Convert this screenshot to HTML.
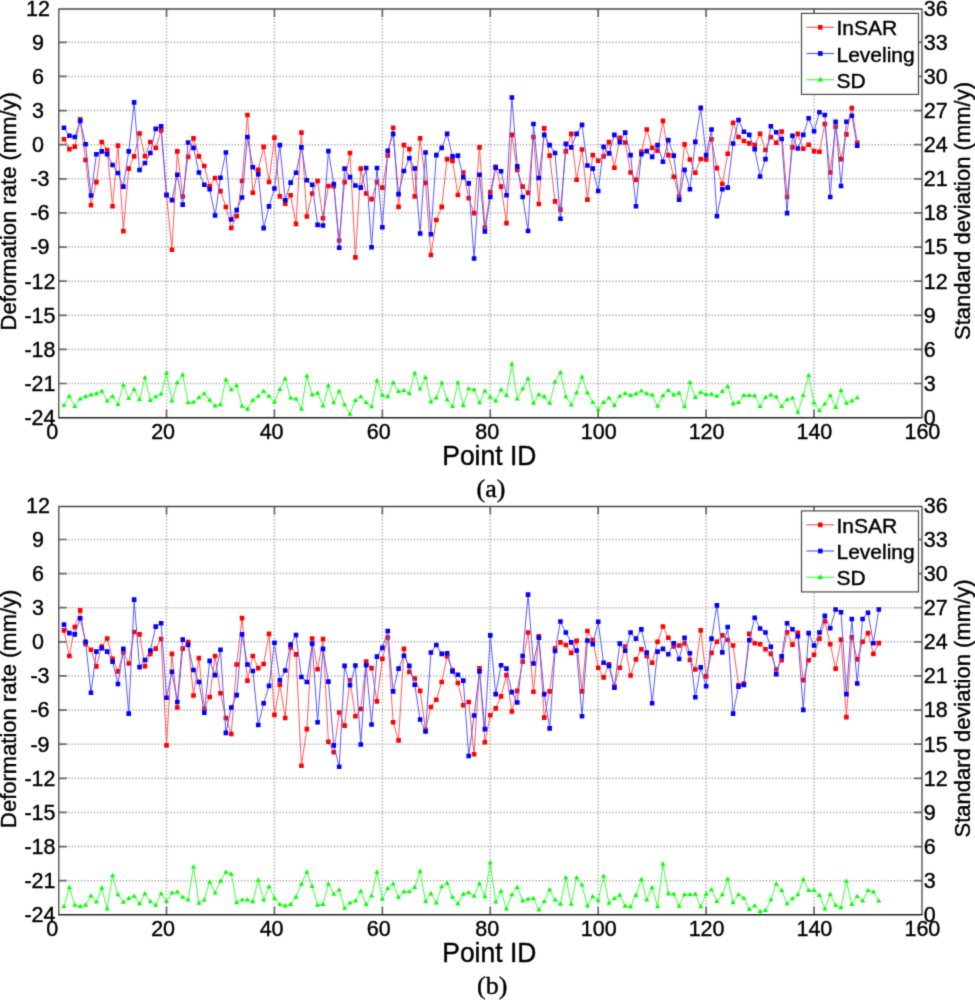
<!DOCTYPE html>
<html><head><meta charset="utf-8"><style>
html,body{margin:0;padding:0;background:#fff;}
svg{display:block;}
text{stroke:#000;stroke-width:0.4px;}
</style></head><body>
<svg width="975" height="1000" viewBox="0 0 975 1000">
<defs><filter id="bl" x="0" y="0" width="975" height="1000" filterUnits="userSpaceOnUse" color-interpolation-filters="sRGB"><feConvolveMatrix order="3" kernelMatrix="0.01917 0.10012 0.01917 0.10012 0.52283 0.10012 0.01917 0.10012 0.01917" divisor="1" edgeMode="duplicate"/></filter></defs>
<g filter="url(#bl)">
<rect width="975" height="1000" fill="#fff"/>
<path d="M166.52 9V417.7M274.44 9V417.7M382.36 9V417.7M490.28 9V417.7M598.2 9V417.7M706.12 9V417.7M814.04 9V417.7M58.8 42.32H922M58.8 76.44H922M58.8 110.56H922M58.8 144.68H922M58.8 178.8H922M58.8 212.92H922M58.8 247.04H922M58.8 281.16H922M58.8 315.28H922M58.8 349.4H922M58.8 383.52H922" stroke="#a4a4a4" stroke-width="1.5" stroke-dasharray="1.25 1.95" fill="none"/>
<path d="M58.8 42.32h8M922 42.32h-8M58.8 76.44h8M922 76.44h-8M58.8 110.56h8M922 110.56h-8M58.8 144.68h8M922 144.68h-8M58.8 178.8h8M922 178.8h-8M58.8 212.92h8M922 212.92h-8M58.8 247.04h8M922 247.04h-8M58.8 281.16h8M922 281.16h-8M58.8 315.28h8M922 315.28h-8M58.8 349.4h8M922 349.4h-8M58.8 383.52h8M922 383.52h-8M166.52 417.7v-8M166.52 9v8M274.44 417.7v-8M274.44 9v8M382.36 417.7v-8M382.36 9v8M490.28 417.7v-8M490.28 9v8M598.2 417.7v-8M598.2 9v8M706.12 417.7v-8M706.12 9v8M814.04 417.7v-8M814.04 9v8" stroke="#6a6a6a" stroke-width="1.7" fill="none"/>
<path d="M58.8 417.7V9H922.0V417.7" stroke="#484848" stroke-width="1.3" fill="none" stroke-linejoin="miter"/>
<path d="M58.3 417.7H922.5" stroke="#222" stroke-width="1.6" fill="none"/>
<polyline points="64,405.19 69.39,396.18 74.79,406.47 80.18,398.87 85.58,396.53 90.98,394.78 96.37,393.61 101.77,391.16 107.16,400.86 112.56,396.42 117.96,404.37 123.35,384.84 128.75,398.52 134.14,389.52 139.54,399.69 144.94,377.71 150.33,400.51 155.73,396.77 161.12,393.84 166.52,373.03 171.92,400.86 177.31,382.74 182.71,374.79 188.1,402.61 193.5,402.26 198.9,397.35 204.29,393.61 209.69,400.27 215.08,405.89 220.48,404.6 225.88,379.81 231.27,389.75 236.67,385.66 242.06,406.12 247.46,409.04 252.86,400.27 258.25,396.18 263.65,391.16 269.04,396.18 274.44,402.03 279.84,389.4 285.23,378.64 290.63,397.94 296.02,398.87 301.42,409.04 306.82,375.96 312.21,394.78 317.61,393.03 323,405.89 328.4,385.66 333.8,402.61 339.19,391.16 344.59,404.6 349.98,414.07 355.38,400.51 360.78,396.77 366.17,402.38 371.57,406.71 376.96,380.63 382.36,395.25 387.76,396.77 393.15,382.74 398.55,391.51 403.94,390.34 409.34,393.49 414.74,373.15 420.13,388.93 425.53,377.48 430.92,401.79 436.32,397.7 441.72,382.97 447.11,399.69 452.51,406.47 457.9,382.74 463.3,405.3 468.7,388.58 474.09,389.75 479.49,402.61 484.88,390.92 490.28,397.12 495.68,400.86 501.07,389.75 506.47,395.36 511.86,364.03 517.26,398.87 522.66,388.58 528.05,378.64 533.45,403.2 538.84,394.66 544.24,396.53 549.64,403.2 555.03,381.92 560.43,372.45 565.82,396.77 571.22,404.95 576.62,392.68 582.01,376.89 587.41,392.91 592.8,402.26 598.2,409.63 603.6,402.38 608.99,397.94 614.39,405.3 619.78,396.18 625.18,393.49 630.58,395.36 635.97,393.61 641.37,390.92 646.76,393.61 652.16,394.78 657.56,406.12 662.95,395.6 668.35,390.34 673.74,394.78 679.14,393.03 684.54,406.71 689.93,382.5 695.33,397.35 700.72,392.32 706.12,394.43 711.52,394.2 716.91,396.18 722.31,391.51 727.7,386.48 733.1,403.78 738.5,402.38 743.89,395.36 749.29,395.36 754.68,395.6 760.08,406.47 765.48,397.35 770.87,394.78 776.27,397 781.66,406.47 787.06,399.69 792.46,397.94 797.85,412.2 803.25,395.36 808.64,375.49 814.04,402.85 819.44,410.56 824.83,404.02 830.23,395.36 835.62,407.29 841.02,390.34 846.42,403.2 851.81,400.86 857.21,397.7" stroke="#40ff40" stroke-width="1.0" fill="none" stroke-linejoin="round"/>
<path d="M64 402.49l2.55 4.3h-5.1zM69.39 393.48l2.55 4.3h-5.1zM74.79 403.77l2.55 4.3h-5.1zM80.18 396.17l2.55 4.3h-5.1zM85.58 393.83l2.55 4.3h-5.1zM90.98 392.08l2.55 4.3h-5.1zM96.37 390.91l2.55 4.3h-5.1zM101.77 388.46l2.55 4.3h-5.1zM107.16 398.16l2.55 4.3h-5.1zM112.56 393.72l2.55 4.3h-5.1zM117.96 401.67l2.55 4.3h-5.1zM123.35 382.14l2.55 4.3h-5.1zM128.75 395.82l2.55 4.3h-5.1zM134.14 386.82l2.55 4.3h-5.1zM139.54 396.99l2.55 4.3h-5.1zM144.94 375.01l2.55 4.3h-5.1zM150.33 397.81l2.55 4.3h-5.1zM155.73 394.07l2.55 4.3h-5.1zM161.12 391.14l2.55 4.3h-5.1zM166.52 370.33l2.55 4.3h-5.1zM171.92 398.16l2.55 4.3h-5.1zM177.31 380.04l2.55 4.3h-5.1zM182.71 372.09l2.55 4.3h-5.1zM188.1 399.91l2.55 4.3h-5.1zM193.5 399.56l2.55 4.3h-5.1zM198.9 394.65l2.55 4.3h-5.1zM204.29 390.91l2.55 4.3h-5.1zM209.69 397.57l2.55 4.3h-5.1zM215.08 403.19l2.55 4.3h-5.1zM220.48 401.9l2.55 4.3h-5.1zM225.88 377.11l2.55 4.3h-5.1zM231.27 387.05l2.55 4.3h-5.1zM236.67 382.96l2.55 4.3h-5.1zM242.06 403.42l2.55 4.3h-5.1zM247.46 406.34l2.55 4.3h-5.1zM252.86 397.57l2.55 4.3h-5.1zM258.25 393.48l2.55 4.3h-5.1zM263.65 388.46l2.55 4.3h-5.1zM269.04 393.48l2.55 4.3h-5.1zM274.44 399.33l2.55 4.3h-5.1zM279.84 386.7l2.55 4.3h-5.1zM285.23 375.94l2.55 4.3h-5.1zM290.63 395.24l2.55 4.3h-5.1zM296.02 396.17l2.55 4.3h-5.1zM301.42 406.34l2.55 4.3h-5.1zM306.82 373.26l2.55 4.3h-5.1zM312.21 392.08l2.55 4.3h-5.1zM317.61 390.33l2.55 4.3h-5.1zM323 403.19l2.55 4.3h-5.1zM328.4 382.96l2.55 4.3h-5.1zM333.8 399.91l2.55 4.3h-5.1zM339.19 388.46l2.55 4.3h-5.1zM344.59 401.9l2.55 4.3h-5.1zM349.98 411.37l2.55 4.3h-5.1zM355.38 397.81l2.55 4.3h-5.1zM360.78 394.07l2.55 4.3h-5.1zM366.17 399.68l2.55 4.3h-5.1zM371.57 404.01l2.55 4.3h-5.1zM376.96 377.93l2.55 4.3h-5.1zM382.36 392.55l2.55 4.3h-5.1zM387.76 394.07l2.55 4.3h-5.1zM393.15 380.04l2.55 4.3h-5.1zM398.55 388.81l2.55 4.3h-5.1zM403.94 387.64l2.55 4.3h-5.1zM409.34 390.79l2.55 4.3h-5.1zM414.74 370.45l2.55 4.3h-5.1zM420.13 386.23l2.55 4.3h-5.1zM425.53 374.78l2.55 4.3h-5.1zM430.92 399.09l2.55 4.3h-5.1zM436.32 395l2.55 4.3h-5.1zM441.72 380.27l2.55 4.3h-5.1zM447.11 396.99l2.55 4.3h-5.1zM452.51 403.77l2.55 4.3h-5.1zM457.9 380.04l2.55 4.3h-5.1zM463.3 402.6l2.55 4.3h-5.1zM468.7 385.88l2.55 4.3h-5.1zM474.09 387.05l2.55 4.3h-5.1zM479.49 399.91l2.55 4.3h-5.1zM484.88 388.22l2.55 4.3h-5.1zM490.28 394.42l2.55 4.3h-5.1zM495.68 398.16l2.55 4.3h-5.1zM501.07 387.05l2.55 4.3h-5.1zM506.47 392.66l2.55 4.3h-5.1zM511.86 361.33l2.55 4.3h-5.1zM517.26 396.17l2.55 4.3h-5.1zM522.66 385.88l2.55 4.3h-5.1zM528.05 375.94l2.55 4.3h-5.1zM533.45 400.5l2.55 4.3h-5.1zM538.84 391.96l2.55 4.3h-5.1zM544.24 393.83l2.55 4.3h-5.1zM549.64 400.5l2.55 4.3h-5.1zM555.03 379.22l2.55 4.3h-5.1zM560.43 369.75l2.55 4.3h-5.1zM565.82 394.07l2.55 4.3h-5.1zM571.22 402.25l2.55 4.3h-5.1zM576.62 389.98l2.55 4.3h-5.1zM582.01 374.19l2.55 4.3h-5.1zM587.41 390.21l2.55 4.3h-5.1zM592.8 399.56l2.55 4.3h-5.1zM598.2 406.93l2.55 4.3h-5.1zM603.6 399.68l2.55 4.3h-5.1zM608.99 395.24l2.55 4.3h-5.1zM614.39 402.6l2.55 4.3h-5.1zM619.78 393.48l2.55 4.3h-5.1zM625.18 390.79l2.55 4.3h-5.1zM630.58 392.66l2.55 4.3h-5.1zM635.97 390.91l2.55 4.3h-5.1zM641.37 388.22l2.55 4.3h-5.1zM646.76 390.91l2.55 4.3h-5.1zM652.16 392.08l2.55 4.3h-5.1zM657.56 403.42l2.55 4.3h-5.1zM662.95 392.9l2.55 4.3h-5.1zM668.35 387.64l2.55 4.3h-5.1zM673.74 392.08l2.55 4.3h-5.1zM679.14 390.33l2.55 4.3h-5.1zM684.54 404.01l2.55 4.3h-5.1zM689.93 379.8l2.55 4.3h-5.1zM695.33 394.65l2.55 4.3h-5.1zM700.72 389.62l2.55 4.3h-5.1zM706.12 391.73l2.55 4.3h-5.1zM711.52 391.5l2.55 4.3h-5.1zM716.91 393.48l2.55 4.3h-5.1zM722.31 388.81l2.55 4.3h-5.1zM727.7 383.78l2.55 4.3h-5.1zM733.1 401.08l2.55 4.3h-5.1zM738.5 399.68l2.55 4.3h-5.1zM743.89 392.66l2.55 4.3h-5.1zM749.29 392.66l2.55 4.3h-5.1zM754.68 392.9l2.55 4.3h-5.1zM760.08 403.77l2.55 4.3h-5.1zM765.48 394.65l2.55 4.3h-5.1zM770.87 392.08l2.55 4.3h-5.1zM776.27 394.3l2.55 4.3h-5.1zM781.66 403.77l2.55 4.3h-5.1zM787.06 396.99l2.55 4.3h-5.1zM792.46 395.24l2.55 4.3h-5.1zM797.85 409.5l2.55 4.3h-5.1zM803.25 392.66l2.55 4.3h-5.1zM808.64 372.79l2.55 4.3h-5.1zM814.04 400.15l2.55 4.3h-5.1zM819.44 407.86l2.55 4.3h-5.1zM824.83 401.32l2.55 4.3h-5.1zM830.23 392.66l2.55 4.3h-5.1zM835.62 404.59l2.55 4.3h-5.1zM841.02 387.64l2.55 4.3h-5.1zM846.42 400.5l2.55 4.3h-5.1zM851.81 398.16l2.55 4.3h-5.1zM857.21 395l2.55 4.3h-5.1z" fill="#00ff00"/>
<polyline points="64,139.23 69.39,149.09 74.79,146.67 80.18,119.34 85.58,159.99 90.98,205.32 96.37,182.14 101.77,142 107.16,150.13 112.56,206.19 117.96,145.63 123.35,231.1 128.75,168.64 134.14,156.36 139.54,133.52 144.94,156.19 150.33,142 155.73,148.06 161.12,130.41 166.52,194.77 171.92,249.79 177.31,151.34 182.71,196.5 188.1,156.88 193.5,138.37 198.9,156.36 204.29,166.05 209.69,186.29 215.08,177.99 220.48,191.13 225.88,207.05 231.27,227.99 236.67,216.22 242.06,180.93 247.46,115.01 252.86,192.69 258.25,169.85 263.65,146.84 269.04,181.97 274.44,137.67 279.84,196.33 285.23,203.59 290.63,195.29 296.02,223.83 301.42,132.66 306.82,216.57 312.21,193.56 317.61,180.93 323,218.3 328.4,185.94 333.8,186.29 339.19,240.44 344.59,182.14 349.98,153.07 355.38,257.4 360.78,168.64 366.17,193.56 371.57,199.09 376.96,182.14 382.36,187.67 387.76,155.49 393.15,127.81 398.55,206.88 403.94,145.11 409.34,149.09 414.74,196.33 420.13,138.37 425.53,182.83 430.92,254.98 436.32,220.03 441.72,206.88 447.11,159.13 452.51,160.86 457.9,194.94 463.3,172.45 468.7,198.23 474.09,213.11 479.49,147.36 484.88,227.64 490.28,192.35 495.68,166.74 501.07,186.64 506.47,223.14 511.86,134.91 517.26,169.85 522.66,186.64 528.05,192.87 533.45,136.98 538.84,203.94 544.24,128.33 549.64,155.67 555.03,201.34 560.43,209.65 565.82,151.34 571.22,133.87 576.62,179.72 582.01,149.44 587.41,199.61 592.8,155.15 598.2,160.69 603.6,156.36 608.99,142.17 614.39,167.78 619.78,137.85 625.18,142.52 630.58,172.45 635.97,179.89 641.37,151.69 646.76,129.54 652.16,147.88 657.56,150.82 662.95,120.89 668.35,155.15 673.74,176.78 679.14,196.67 684.54,144.42 689.93,159.47 695.33,172.8 700.72,158.96 706.12,159.47 711.52,139.23 716.91,168.12 722.31,184.04 727.7,153.76 733.1,122.8 738.5,136.98 743.89,140.96 749.29,143.38 754.68,145.11 760.08,133.87 765.48,149.96 770.87,136.98 776.27,142.69 781.66,131.45 787.06,197.02 792.46,147.36 797.85,133.87 803.25,148.75 808.64,144.77 814.04,151.17 819.44,151.69 824.83,124.01 830.23,172.45 835.62,126.6 841.02,159.13 846.42,134.39 851.81,108.09 857.21,142.69" stroke="#ff5a5a" stroke-width="1.0" fill="none" stroke-linejoin="round"/>
<path d="M61.7 136.93h4.6v4.6h-4.6zM67.09 146.79h4.6v4.6h-4.6zM72.49 144.37h4.6v4.6h-4.6zM77.88 117.04h4.6v4.6h-4.6zM83.28 157.69h4.6v4.6h-4.6zM88.68 203.02h4.6v4.6h-4.6zM94.07 179.84h4.6v4.6h-4.6zM99.47 139.7h4.6v4.6h-4.6zM104.86 147.83h4.6v4.6h-4.6zM110.26 203.89h4.6v4.6h-4.6zM115.66 143.33h4.6v4.6h-4.6zM121.05 228.8h4.6v4.6h-4.6zM126.45 166.34h4.6v4.6h-4.6zM131.84 154.06h4.6v4.6h-4.6zM137.24 131.22h4.6v4.6h-4.6zM142.64 153.89h4.6v4.6h-4.6zM148.03 139.7h4.6v4.6h-4.6zM153.43 145.76h4.6v4.6h-4.6zM158.82 128.11h4.6v4.6h-4.6zM164.22 192.47h4.6v4.6h-4.6zM169.62 247.49h4.6v4.6h-4.6zM175.01 149.04h4.6v4.6h-4.6zM180.41 194.2h4.6v4.6h-4.6zM185.8 154.58h4.6v4.6h-4.6zM191.2 136.07h4.6v4.6h-4.6zM196.6 154.06h4.6v4.6h-4.6zM201.99 163.75h4.6v4.6h-4.6zM207.39 183.99h4.6v4.6h-4.6zM212.78 175.69h4.6v4.6h-4.6zM218.18 188.83h4.6v4.6h-4.6zM223.58 204.75h4.6v4.6h-4.6zM228.97 225.69h4.6v4.6h-4.6zM234.37 213.92h4.6v4.6h-4.6zM239.76 178.63h4.6v4.6h-4.6zM245.16 112.71h4.6v4.6h-4.6zM250.56 190.39h4.6v4.6h-4.6zM255.95 167.55h4.6v4.6h-4.6zM261.35 144.54h4.6v4.6h-4.6zM266.74 179.67h4.6v4.6h-4.6zM272.14 135.37h4.6v4.6h-4.6zM277.54 194.03h4.6v4.6h-4.6zM282.93 201.29h4.6v4.6h-4.6zM288.33 192.99h4.6v4.6h-4.6zM293.72 221.53h4.6v4.6h-4.6zM299.12 130.36h4.6v4.6h-4.6zM304.52 214.27h4.6v4.6h-4.6zM309.91 191.26h4.6v4.6h-4.6zM315.31 178.63h4.6v4.6h-4.6zM320.7 216h4.6v4.6h-4.6zM326.1 183.64h4.6v4.6h-4.6zM331.5 183.99h4.6v4.6h-4.6zM336.89 238.14h4.6v4.6h-4.6zM342.29 179.84h4.6v4.6h-4.6zM347.68 150.77h4.6v4.6h-4.6zM353.08 255.1h4.6v4.6h-4.6zM358.48 166.34h4.6v4.6h-4.6zM363.87 191.26h4.6v4.6h-4.6zM369.27 196.79h4.6v4.6h-4.6zM374.66 179.84h4.6v4.6h-4.6zM380.06 185.37h4.6v4.6h-4.6zM385.46 153.19h4.6v4.6h-4.6zM390.85 125.51h4.6v4.6h-4.6zM396.25 204.58h4.6v4.6h-4.6zM401.64 142.81h4.6v4.6h-4.6zM407.04 146.79h4.6v4.6h-4.6zM412.44 194.03h4.6v4.6h-4.6zM417.83 136.07h4.6v4.6h-4.6zM423.23 180.53h4.6v4.6h-4.6zM428.62 252.68h4.6v4.6h-4.6zM434.02 217.73h4.6v4.6h-4.6zM439.42 204.58h4.6v4.6h-4.6zM444.81 156.83h4.6v4.6h-4.6zM450.21 158.56h4.6v4.6h-4.6zM455.6 192.64h4.6v4.6h-4.6zM461 170.15h4.6v4.6h-4.6zM466.4 195.93h4.6v4.6h-4.6zM471.79 210.81h4.6v4.6h-4.6zM477.19 145.06h4.6v4.6h-4.6zM482.58 225.34h4.6v4.6h-4.6zM487.98 190.05h4.6v4.6h-4.6zM493.38 164.44h4.6v4.6h-4.6zM498.77 184.34h4.6v4.6h-4.6zM504.17 220.84h4.6v4.6h-4.6zM509.56 132.61h4.6v4.6h-4.6zM514.96 167.55h4.6v4.6h-4.6zM520.36 184.34h4.6v4.6h-4.6zM525.75 190.57h4.6v4.6h-4.6zM531.15 134.68h4.6v4.6h-4.6zM536.54 201.64h4.6v4.6h-4.6zM541.94 126.03h4.6v4.6h-4.6zM547.34 153.37h4.6v4.6h-4.6zM552.73 199.04h4.6v4.6h-4.6zM558.13 207.35h4.6v4.6h-4.6zM563.52 149.04h4.6v4.6h-4.6zM568.92 131.57h4.6v4.6h-4.6zM574.32 177.42h4.6v4.6h-4.6zM579.71 147.14h4.6v4.6h-4.6zM585.11 197.31h4.6v4.6h-4.6zM590.5 152.85h4.6v4.6h-4.6zM595.9 158.39h4.6v4.6h-4.6zM601.3 154.06h4.6v4.6h-4.6zM606.69 139.87h4.6v4.6h-4.6zM612.09 165.48h4.6v4.6h-4.6zM617.48 135.55h4.6v4.6h-4.6zM622.88 140.22h4.6v4.6h-4.6zM628.28 170.15h4.6v4.6h-4.6zM633.67 177.59h4.6v4.6h-4.6zM639.07 149.39h4.6v4.6h-4.6zM644.46 127.24h4.6v4.6h-4.6zM649.86 145.58h4.6v4.6h-4.6zM655.26 148.52h4.6v4.6h-4.6zM660.65 118.59h4.6v4.6h-4.6zM666.05 152.85h4.6v4.6h-4.6zM671.44 174.48h4.6v4.6h-4.6zM676.84 194.37h4.6v4.6h-4.6zM682.24 142.12h4.6v4.6h-4.6zM687.63 157.17h4.6v4.6h-4.6zM693.03 170.5h4.6v4.6h-4.6zM698.42 156.66h4.6v4.6h-4.6zM703.82 157.17h4.6v4.6h-4.6zM709.22 136.93h4.6v4.6h-4.6zM714.61 165.82h4.6v4.6h-4.6zM720.01 181.74h4.6v4.6h-4.6zM725.4 151.46h4.6v4.6h-4.6zM730.8 120.5h4.6v4.6h-4.6zM736.2 134.68h4.6v4.6h-4.6zM741.59 138.66h4.6v4.6h-4.6zM746.99 141.08h4.6v4.6h-4.6zM752.38 142.81h4.6v4.6h-4.6zM757.78 131.57h4.6v4.6h-4.6zM763.18 147.66h4.6v4.6h-4.6zM768.57 134.68h4.6v4.6h-4.6zM773.97 140.39h4.6v4.6h-4.6zM779.36 129.15h4.6v4.6h-4.6zM784.76 194.72h4.6v4.6h-4.6zM790.16 145.06h4.6v4.6h-4.6zM795.55 131.57h4.6v4.6h-4.6zM800.95 146.45h4.6v4.6h-4.6zM806.34 142.47h4.6v4.6h-4.6zM811.74 148.87h4.6v4.6h-4.6zM817.14 149.39h4.6v4.6h-4.6zM822.53 121.71h4.6v4.6h-4.6zM827.93 170.15h4.6v4.6h-4.6zM833.32 124.3h4.6v4.6h-4.6zM838.72 156.83h4.6v4.6h-4.6zM844.12 132.09h4.6v4.6h-4.6zM849.51 105.79h4.6v4.6h-4.6zM854.91 140.39h4.6v4.6h-4.6z" fill="#ff0000"/>
<polyline points="64,127.81 69.39,135.77 74.79,136.98 80.18,121.07 85.58,144.25 90.98,195.46 96.37,154.28 101.77,151.34 107.16,154.28 112.56,165.01 117.96,172.97 123.35,186.64 128.75,151.34 134.14,102.38 139.54,170.03 144.94,162.93 150.33,153.07 155.73,128.85 161.12,126.26 166.52,195.11 171.92,200.13 177.31,174.7 182.71,204.63 188.1,142.52 193.5,147.88 198.9,172.45 204.29,184.73 209.69,189.23 215.08,215.53 220.48,177.81 225.88,152.55 231.27,219.51 236.67,210.17 242.06,197.54 247.46,136.98 252.86,167.26 258.25,174.18 263.65,228.16 269.04,206.36 274.44,188.54 279.84,145.11 285.23,200.3 290.63,182.66 296.02,172.8 301.42,147.36 306.82,180.24 312.21,184.73 317.61,224.87 323,225.56 328.4,151.17 333.8,184.04 339.19,247.71 344.59,168.64 349.98,177.12 355.38,185.43 360.78,187.67 366.17,167.95 371.57,247.19 376.96,167.95 382.36,227.29 387.76,150.82 393.15,133.87 398.55,194.08 403.94,171.07 409.34,158.26 414.74,168.47 420.13,233.52 425.53,152.55 430.92,234.21 436.32,155.15 441.72,147.88 447.11,133.87 452.51,156.36 457.9,155.67 463.3,177.29 468.7,183.35 474.09,258.44 479.49,174.7 484.88,231.45 490.28,197.02 495.68,167.61 501.07,171.24 506.47,195.29 511.86,97.54 517.26,166.39 522.66,197.02 528.05,230.93 533.45,124.01 538.84,177.99 544.24,134.91 549.64,145.11 555.03,153.07 560.43,218.82 565.82,143.9 571.22,147.36 576.62,133.87 582.01,124.87 587.41,165.53 592.8,168.64 598.2,190.96 603.6,146.84 608.99,153.42 614.39,134.91 619.78,142.17 625.18,132.66 630.58,155.15 635.97,206.19 641.37,154.28 646.76,151.17 652.16,156.88 657.56,145.11 662.95,161.72 668.35,140.1 673.74,155.67 679.14,199.79 684.54,169.85 689.93,189.23 695.33,141.83 700.72,107.92 706.12,155.15 711.52,129.54 716.91,216.22 722.31,189.23 727.7,187.67 733.1,143.56 738.5,120.03 743.89,131.79 749.29,134.91 754.68,149.09 760.08,176.43 765.48,159.13 770.87,126.26 776.27,132.31 781.66,139.06 787.06,213.11 792.46,135.77 797.85,148.57 803.25,134.91 808.64,118.3 814.04,131.27 819.44,112.24 824.83,115.01 830.23,197.02 835.62,121.76 841.02,185.94 846.42,121.76 851.81,115.7 857.21,145.63" stroke="#5a5aff" stroke-width="1.0" fill="none" stroke-linejoin="round"/>
<path d="M61.7 125.51h4.6v4.6h-4.6zM67.09 133.47h4.6v4.6h-4.6zM72.49 134.68h4.6v4.6h-4.6zM77.88 118.77h4.6v4.6h-4.6zM83.28 141.95h4.6v4.6h-4.6zM88.68 193.16h4.6v4.6h-4.6zM94.07 151.98h4.6v4.6h-4.6zM99.47 149.04h4.6v4.6h-4.6zM104.86 151.98h4.6v4.6h-4.6zM110.26 162.71h4.6v4.6h-4.6zM115.66 170.67h4.6v4.6h-4.6zM121.05 184.34h4.6v4.6h-4.6zM126.45 149.04h4.6v4.6h-4.6zM131.84 100.08h4.6v4.6h-4.6zM137.24 167.73h4.6v4.6h-4.6zM142.64 160.63h4.6v4.6h-4.6zM148.03 150.77h4.6v4.6h-4.6zM153.43 126.55h4.6v4.6h-4.6zM158.82 123.96h4.6v4.6h-4.6zM164.22 192.81h4.6v4.6h-4.6zM169.62 197.83h4.6v4.6h-4.6zM175.01 172.4h4.6v4.6h-4.6zM180.41 202.33h4.6v4.6h-4.6zM185.8 140.22h4.6v4.6h-4.6zM191.2 145.58h4.6v4.6h-4.6zM196.6 170.15h4.6v4.6h-4.6zM201.99 182.43h4.6v4.6h-4.6zM207.39 186.93h4.6v4.6h-4.6zM212.78 213.23h4.6v4.6h-4.6zM218.18 175.51h4.6v4.6h-4.6zM223.58 150.25h4.6v4.6h-4.6zM228.97 217.21h4.6v4.6h-4.6zM234.37 207.87h4.6v4.6h-4.6zM239.76 195.24h4.6v4.6h-4.6zM245.16 134.68h4.6v4.6h-4.6zM250.56 164.96h4.6v4.6h-4.6zM255.95 171.88h4.6v4.6h-4.6zM261.35 225.86h4.6v4.6h-4.6zM266.74 204.06h4.6v4.6h-4.6zM272.14 186.24h4.6v4.6h-4.6zM277.54 142.81h4.6v4.6h-4.6zM282.93 198h4.6v4.6h-4.6zM288.33 180.36h4.6v4.6h-4.6zM293.72 170.5h4.6v4.6h-4.6zM299.12 145.06h4.6v4.6h-4.6zM304.52 177.94h4.6v4.6h-4.6zM309.91 182.43h4.6v4.6h-4.6zM315.31 222.57h4.6v4.6h-4.6zM320.7 223.26h4.6v4.6h-4.6zM326.1 148.87h4.6v4.6h-4.6zM331.5 181.74h4.6v4.6h-4.6zM336.89 245.41h4.6v4.6h-4.6zM342.29 166.34h4.6v4.6h-4.6zM347.68 174.82h4.6v4.6h-4.6zM353.08 183.13h4.6v4.6h-4.6zM358.48 185.37h4.6v4.6h-4.6zM363.87 165.65h4.6v4.6h-4.6zM369.27 244.89h4.6v4.6h-4.6zM374.66 165.65h4.6v4.6h-4.6zM380.06 224.99h4.6v4.6h-4.6zM385.46 148.52h4.6v4.6h-4.6zM390.85 131.57h4.6v4.6h-4.6zM396.25 191.78h4.6v4.6h-4.6zM401.64 168.77h4.6v4.6h-4.6zM407.04 155.96h4.6v4.6h-4.6zM412.44 166.17h4.6v4.6h-4.6zM417.83 231.22h4.6v4.6h-4.6zM423.23 150.25h4.6v4.6h-4.6zM428.62 231.91h4.6v4.6h-4.6zM434.02 152.85h4.6v4.6h-4.6zM439.42 145.58h4.6v4.6h-4.6zM444.81 131.57h4.6v4.6h-4.6zM450.21 154.06h4.6v4.6h-4.6zM455.6 153.37h4.6v4.6h-4.6zM461 174.99h4.6v4.6h-4.6zM466.4 181.05h4.6v4.6h-4.6zM471.79 256.14h4.6v4.6h-4.6zM477.19 172.4h4.6v4.6h-4.6zM482.58 229.15h4.6v4.6h-4.6zM487.98 194.72h4.6v4.6h-4.6zM493.38 165.31h4.6v4.6h-4.6zM498.77 168.94h4.6v4.6h-4.6zM504.17 192.99h4.6v4.6h-4.6zM509.56 95.24h4.6v4.6h-4.6zM514.96 164.09h4.6v4.6h-4.6zM520.36 194.72h4.6v4.6h-4.6zM525.75 228.63h4.6v4.6h-4.6zM531.15 121.71h4.6v4.6h-4.6zM536.54 175.69h4.6v4.6h-4.6zM541.94 132.61h4.6v4.6h-4.6zM547.34 142.81h4.6v4.6h-4.6zM552.73 150.77h4.6v4.6h-4.6zM558.13 216.52h4.6v4.6h-4.6zM563.52 141.6h4.6v4.6h-4.6zM568.92 145.06h4.6v4.6h-4.6zM574.32 131.57h4.6v4.6h-4.6zM579.71 122.57h4.6v4.6h-4.6zM585.11 163.23h4.6v4.6h-4.6zM590.5 166.34h4.6v4.6h-4.6zM595.9 188.66h4.6v4.6h-4.6zM601.3 144.54h4.6v4.6h-4.6zM606.69 151.12h4.6v4.6h-4.6zM612.09 132.61h4.6v4.6h-4.6zM617.48 139.87h4.6v4.6h-4.6zM622.88 130.36h4.6v4.6h-4.6zM628.28 152.85h4.6v4.6h-4.6zM633.67 203.89h4.6v4.6h-4.6zM639.07 151.98h4.6v4.6h-4.6zM644.46 148.87h4.6v4.6h-4.6zM649.86 154.58h4.6v4.6h-4.6zM655.26 142.81h4.6v4.6h-4.6zM660.65 159.42h4.6v4.6h-4.6zM666.05 137.8h4.6v4.6h-4.6zM671.44 153.37h4.6v4.6h-4.6zM676.84 197.49h4.6v4.6h-4.6zM682.24 167.55h4.6v4.6h-4.6zM687.63 186.93h4.6v4.6h-4.6zM693.03 139.53h4.6v4.6h-4.6zM698.42 105.62h4.6v4.6h-4.6zM703.82 152.85h4.6v4.6h-4.6zM709.22 127.24h4.6v4.6h-4.6zM714.61 213.92h4.6v4.6h-4.6zM720.01 186.93h4.6v4.6h-4.6zM725.4 185.37h4.6v4.6h-4.6zM730.8 141.26h4.6v4.6h-4.6zM736.2 117.73h4.6v4.6h-4.6zM741.59 129.49h4.6v4.6h-4.6zM746.99 132.61h4.6v4.6h-4.6zM752.38 146.79h4.6v4.6h-4.6zM757.78 174.13h4.6v4.6h-4.6zM763.18 156.83h4.6v4.6h-4.6zM768.57 123.96h4.6v4.6h-4.6zM773.97 130.01h4.6v4.6h-4.6zM779.36 136.76h4.6v4.6h-4.6zM784.76 210.81h4.6v4.6h-4.6zM790.16 133.47h4.6v4.6h-4.6zM795.55 146.27h4.6v4.6h-4.6zM800.95 132.61h4.6v4.6h-4.6zM806.34 116h4.6v4.6h-4.6zM811.74 128.97h4.6v4.6h-4.6zM817.14 109.94h4.6v4.6h-4.6zM822.53 112.71h4.6v4.6h-4.6zM827.93 194.72h4.6v4.6h-4.6zM833.32 119.46h4.6v4.6h-4.6zM838.72 183.64h4.6v4.6h-4.6zM844.12 119.46h4.6v4.6h-4.6zM849.51 113.4h4.6v4.6h-4.6zM854.91 143.33h4.6v4.6h-4.6z" fill="#0000ff"/>
<g font-family='"Liberation Sans", sans-serif' font-size="21.5" fill="#000"><text x="37.9" y="15.6" text-anchor="middle">12</text><text x="37.9" y="49.72" text-anchor="middle">9</text><text x="37.9" y="83.84" text-anchor="middle">6</text><text x="37.9" y="117.96" text-anchor="middle">3</text><text x="37.9" y="152.08" text-anchor="middle">0</text><text x="40.0" y="186.2" text-anchor="middle">-3</text><text x="40.0" y="220.32" text-anchor="middle">-6</text><text x="40.0" y="254.44" text-anchor="middle">-9</text><text x="40.0" y="288.56" text-anchor="middle">-12</text><text x="40.0" y="322.68" text-anchor="middle">-15</text><text x="40.0" y="356.8" text-anchor="middle">-18</text><text x="40.0" y="390.92" text-anchor="middle">-21</text><text x="40.0" y="425.04" text-anchor="middle">-24</text><text x="923.8" y="15.6">36</text><text x="923.8" y="49.72">33</text><text x="923.8" y="83.84">30</text><text x="923.8" y="117.96">27</text><text x="923.8" y="152.08">24</text><text x="923.8" y="186.2">21</text><text x="923.8" y="220.32">18</text><text x="923.8" y="254.44">15</text><text x="923.8" y="288.56">12</text><text x="923.8" y="322.68">9</text><text x="923.8" y="356.8">6</text><text x="923.8" y="390.92">3</text><text x="923.8" y="425.04">0</text><text x="52.3" y="439" text-anchor="middle">0</text><text x="163.1" y="439" text-anchor="middle">20</text><text x="271.6" y="439" text-anchor="middle">40</text><text x="378.7" y="439" text-anchor="middle">60</text><text x="487.2" y="439" text-anchor="middle">80</text><text x="598.7" y="439" text-anchor="middle">100</text><text x="706.6" y="439" text-anchor="middle">120</text><text x="814.4" y="439" text-anchor="middle">140</text><text x="922.4" y="439" text-anchor="middle">160</text></g>
<text transform="translate(489.3 464.5) scale(0.97 1)" text-anchor="middle" font-family='"Liberation Sans", sans-serif' font-size="27.3">Point ID</text>
<text transform="translate(16.2 211.3) rotate(-90)" text-anchor="middle" font-family='"Liberation Sans", sans-serif' font-size="22">Deformation rate (mm/y)</text>
<text transform="translate(969.6 211) rotate(-90)" text-anchor="middle" font-family='"Liberation Sans", sans-serif' font-size="22">Standard deviation (mm/y)</text>
<rect x="801.5" y="13.4" width="117" height="81" fill="#fff" stroke="#4a4a4a" stroke-width="1.2"/>
<path d="M806.5 27.3H834" stroke="#ff5a5a" stroke-width="1.2"/>
<rect x="818.0" y="25" width="4.6" height="4.6" fill="#ff0000"/>
<text x="836.5" y="35.3" font-family='"Liberation Sans", sans-serif' font-size="21">InSAR</text>
<path d="M806.5 53.5H834" stroke="#5a5aff" stroke-width="1.2"/>
<rect x="818.0" y="51.2" width="4.6" height="4.6" fill="#0000ff"/>
<text x="836.5" y="61.5" font-family='"Liberation Sans", sans-serif' font-size="21">Leveling</text>
<path d="M806.5 79.7H834" stroke="#40ff40" stroke-width="1.2"/>
<path d="M820.3 76.7l2.85 4.8h-5.7z" fill="#00ff00"/>
<text x="836.5" y="87.7" font-family='"Liberation Sans", sans-serif' font-size="21">SD</text>
<path d="M166.52 506.5V914.8M274.44 506.5V914.8M382.36 506.5V914.8M490.28 506.5V914.8M598.2 506.5V914.8M706.12 506.5V914.8M814.04 506.5V914.8M58.8 539.48H922M58.8 573.6H922M58.8 607.72H922M58.8 641.84H922M58.8 675.96H922M58.8 710.08H922M58.8 744.2H922M58.8 778.32H922M58.8 812.44H922M58.8 846.56H922M58.8 880.68H922" stroke="#a4a4a4" stroke-width="1.5" stroke-dasharray="1.25 1.95" fill="none"/>
<path d="M58.8 539.48h8M922 539.48h-8M58.8 573.6h8M922 573.6h-8M58.8 607.72h8M922 607.72h-8M58.8 641.84h8M922 641.84h-8M58.8 675.96h8M922 675.96h-8M58.8 710.08h8M922 710.08h-8M58.8 744.2h8M922 744.2h-8M58.8 778.32h8M922 778.32h-8M58.8 812.44h8M922 812.44h-8M58.8 846.56h8M922 846.56h-8M58.8 880.68h8M922 880.68h-8M166.52 914.8v-8M166.52 506.5v8M274.44 914.8v-8M274.44 506.5v8M382.36 914.8v-8M382.36 506.5v8M490.28 914.8v-8M490.28 506.5v8M598.2 914.8v-8M598.2 506.5v8M706.12 914.8v-8M706.12 506.5v8M814.04 914.8v-8M814.04 506.5v8" stroke="#6a6a6a" stroke-width="1.7" fill="none"/>
<path d="M58.8 914.8V506.5H922.0V914.8" stroke="#484848" stroke-width="1.3" fill="none" stroke-linejoin="miter"/>
<path d="M58.3 914.8H922.5" stroke="#222" stroke-width="1.6" fill="none"/>
<polyline points="64,906.39 69.39,887.34 74.79,905.23 80.18,906.39 85.58,905.23 90.98,895.87 96.37,901.95 101.77,888.16 107.16,908.97 112.56,875.64 117.96,894.7 123.35,902.19 128.75,898.44 134.14,896.11 139.54,903.71 144.94,893.77 150.33,901.37 155.73,905.11 161.12,893.77 166.52,901.37 171.92,892.83 177.31,892.01 182.71,897.27 188.1,899.96 193.5,866.88 198.9,903.12 204.29,899.85 209.69,881.84 215.08,892.95 220.48,881.26 225.88,872.14 231.27,874.12 236.67,902.54 242.06,899.85 247.46,899.96 252.86,901.72 258.25,880.09 263.65,899.96 269.04,886.75 274.44,898.09 279.84,904.52 285.23,905.81 290.63,904.29 296.02,897.04 301.42,884.06 306.82,872.14 312.21,886.4 317.61,905.23 323,904.29 328.4,883.83 333.8,894.12 339.19,889.91 344.59,908.15 349.98,902.89 355.38,901.02 360.78,891.2 366.17,904.52 371.57,895.87 376.96,872.14 382.36,899.03 387.76,888.51 393.15,883.83 398.55,897.27 403.94,891.66 409.34,891.66 414.74,887.34 420.13,871.2 425.53,901.37 430.92,893.53 436.32,902.89 441.72,886.75 447.11,883.24 452.51,897.27 457.9,903.71 463.3,894.12 468.7,892.6 474.09,896.11 479.49,883.6 484.88,896.69 490.28,862.78 495.68,901.95 501.07,891.2 506.47,908.97 511.86,894.7 517.26,887.34 522.66,900.78 528.05,899.03 533.45,898.44 538.84,909.78 544.24,901.37 549.64,889.68 555.03,899.96 560.43,904.06 565.82,877.63 571.22,904.06 576.62,877.63 582.01,885 587.41,905.81 592.8,896.69 598.2,900.55 603.6,876.23 608.99,903.12 614.39,898.44 619.78,895.17 625.18,906.04 630.58,906.63 635.97,895.29 641.37,879.5 646.76,899.85 652.16,887.57 657.56,906.63 662.95,863.95 668.35,893.53 673.74,894.12 679.14,906.04 684.54,894.7 689.93,894.7 695.33,894.12 700.72,906.63 706.12,894.12 711.52,889.68 716.91,901.37 722.31,894.7 727.7,879.15 733.1,902.54 738.5,894.7 743.89,898.09 749.29,909.32 754.68,905.69 760.08,911.54 765.48,910.49 770.87,899.61 776.27,883.83 781.66,890.49 787.06,903.71 792.46,898.68 797.85,894.7 803.25,879.5 808.64,890.49 814.04,890.49 819.44,895.29 824.83,908.97 830.23,894.35 835.62,905.11 841.02,907.56 846.42,881.14 851.81,904.29 857.21,896.46 862.6,901.02 868,890.49 873.4,891.78 878.79,901.02" stroke="#40ff40" stroke-width="1.0" fill="none" stroke-linejoin="round"/>
<path d="M64 903.69l2.55 4.3h-5.1zM69.39 884.64l2.55 4.3h-5.1zM74.79 902.53l2.55 4.3h-5.1zM80.18 903.69l2.55 4.3h-5.1zM85.58 902.53l2.55 4.3h-5.1zM90.98 893.17l2.55 4.3h-5.1zM96.37 899.25l2.55 4.3h-5.1zM101.77 885.46l2.55 4.3h-5.1zM107.16 906.27l2.55 4.3h-5.1zM112.56 872.94l2.55 4.3h-5.1zM117.96 892l2.55 4.3h-5.1zM123.35 899.49l2.55 4.3h-5.1zM128.75 895.74l2.55 4.3h-5.1zM134.14 893.41l2.55 4.3h-5.1zM139.54 901.01l2.55 4.3h-5.1zM144.94 891.07l2.55 4.3h-5.1zM150.33 898.67l2.55 4.3h-5.1zM155.73 902.41l2.55 4.3h-5.1zM161.12 891.07l2.55 4.3h-5.1zM166.52 898.67l2.55 4.3h-5.1zM171.92 890.13l2.55 4.3h-5.1zM177.31 889.31l2.55 4.3h-5.1zM182.71 894.57l2.55 4.3h-5.1zM188.1 897.26l2.55 4.3h-5.1zM193.5 864.18l2.55 4.3h-5.1zM198.9 900.42l2.55 4.3h-5.1zM204.29 897.15l2.55 4.3h-5.1zM209.69 879.14l2.55 4.3h-5.1zM215.08 890.25l2.55 4.3h-5.1zM220.48 878.56l2.55 4.3h-5.1zM225.88 869.44l2.55 4.3h-5.1zM231.27 871.42l2.55 4.3h-5.1zM236.67 899.84l2.55 4.3h-5.1zM242.06 897.15l2.55 4.3h-5.1zM247.46 897.26l2.55 4.3h-5.1zM252.86 899.02l2.55 4.3h-5.1zM258.25 877.39l2.55 4.3h-5.1zM263.65 897.26l2.55 4.3h-5.1zM269.04 884.05l2.55 4.3h-5.1zM274.44 895.39l2.55 4.3h-5.1zM279.84 901.82l2.55 4.3h-5.1zM285.23 903.11l2.55 4.3h-5.1zM290.63 901.59l2.55 4.3h-5.1zM296.02 894.34l2.55 4.3h-5.1zM301.42 881.36l2.55 4.3h-5.1zM306.82 869.44l2.55 4.3h-5.1zM312.21 883.7l2.55 4.3h-5.1zM317.61 902.53l2.55 4.3h-5.1zM323 901.59l2.55 4.3h-5.1zM328.4 881.13l2.55 4.3h-5.1zM333.8 891.42l2.55 4.3h-5.1zM339.19 887.21l2.55 4.3h-5.1zM344.59 905.45l2.55 4.3h-5.1zM349.98 900.19l2.55 4.3h-5.1zM355.38 898.32l2.55 4.3h-5.1zM360.78 888.5l2.55 4.3h-5.1zM366.17 901.82l2.55 4.3h-5.1zM371.57 893.17l2.55 4.3h-5.1zM376.96 869.44l2.55 4.3h-5.1zM382.36 896.33l2.55 4.3h-5.1zM387.76 885.81l2.55 4.3h-5.1zM393.15 881.13l2.55 4.3h-5.1zM398.55 894.57l2.55 4.3h-5.1zM403.94 888.96l2.55 4.3h-5.1zM409.34 888.96l2.55 4.3h-5.1zM414.74 884.64l2.55 4.3h-5.1zM420.13 868.5l2.55 4.3h-5.1zM425.53 898.67l2.55 4.3h-5.1zM430.92 890.83l2.55 4.3h-5.1zM436.32 900.19l2.55 4.3h-5.1zM441.72 884.05l2.55 4.3h-5.1zM447.11 880.54l2.55 4.3h-5.1zM452.51 894.57l2.55 4.3h-5.1zM457.9 901.01l2.55 4.3h-5.1zM463.3 891.42l2.55 4.3h-5.1zM468.7 889.9l2.55 4.3h-5.1zM474.09 893.41l2.55 4.3h-5.1zM479.49 880.9l2.55 4.3h-5.1zM484.88 893.99l2.55 4.3h-5.1zM490.28 860.08l2.55 4.3h-5.1zM495.68 899.25l2.55 4.3h-5.1zM501.07 888.5l2.55 4.3h-5.1zM506.47 906.27l2.55 4.3h-5.1zM511.86 892l2.55 4.3h-5.1zM517.26 884.64l2.55 4.3h-5.1zM522.66 898.08l2.55 4.3h-5.1zM528.05 896.33l2.55 4.3h-5.1zM533.45 895.74l2.55 4.3h-5.1zM538.84 907.08l2.55 4.3h-5.1zM544.24 898.67l2.55 4.3h-5.1zM549.64 886.98l2.55 4.3h-5.1zM555.03 897.26l2.55 4.3h-5.1zM560.43 901.36l2.55 4.3h-5.1zM565.82 874.93l2.55 4.3h-5.1zM571.22 901.36l2.55 4.3h-5.1zM576.62 874.93l2.55 4.3h-5.1zM582.01 882.3l2.55 4.3h-5.1zM587.41 903.11l2.55 4.3h-5.1zM592.8 893.99l2.55 4.3h-5.1zM598.2 897.85l2.55 4.3h-5.1zM603.6 873.53l2.55 4.3h-5.1zM608.99 900.42l2.55 4.3h-5.1zM614.39 895.74l2.55 4.3h-5.1zM619.78 892.47l2.55 4.3h-5.1zM625.18 903.34l2.55 4.3h-5.1zM630.58 903.93l2.55 4.3h-5.1zM635.97 892.59l2.55 4.3h-5.1zM641.37 876.8l2.55 4.3h-5.1zM646.76 897.15l2.55 4.3h-5.1zM652.16 884.87l2.55 4.3h-5.1zM657.56 903.93l2.55 4.3h-5.1zM662.95 861.25l2.55 4.3h-5.1zM668.35 890.83l2.55 4.3h-5.1zM673.74 891.42l2.55 4.3h-5.1zM679.14 903.34l2.55 4.3h-5.1zM684.54 892l2.55 4.3h-5.1zM689.93 892l2.55 4.3h-5.1zM695.33 891.42l2.55 4.3h-5.1zM700.72 903.93l2.55 4.3h-5.1zM706.12 891.42l2.55 4.3h-5.1zM711.52 886.98l2.55 4.3h-5.1zM716.91 898.67l2.55 4.3h-5.1zM722.31 892l2.55 4.3h-5.1zM727.7 876.45l2.55 4.3h-5.1zM733.1 899.84l2.55 4.3h-5.1zM738.5 892l2.55 4.3h-5.1zM743.89 895.39l2.55 4.3h-5.1zM749.29 906.62l2.55 4.3h-5.1zM754.68 902.99l2.55 4.3h-5.1zM760.08 908.84l2.55 4.3h-5.1zM765.48 907.79l2.55 4.3h-5.1zM770.87 896.91l2.55 4.3h-5.1zM776.27 881.13l2.55 4.3h-5.1zM781.66 887.79l2.55 4.3h-5.1zM787.06 901.01l2.55 4.3h-5.1zM792.46 895.98l2.55 4.3h-5.1zM797.85 892l2.55 4.3h-5.1zM803.25 876.8l2.55 4.3h-5.1zM808.64 887.79l2.55 4.3h-5.1zM814.04 887.79l2.55 4.3h-5.1zM819.44 892.59l2.55 4.3h-5.1zM824.83 906.27l2.55 4.3h-5.1zM830.23 891.65l2.55 4.3h-5.1zM835.62 902.41l2.55 4.3h-5.1zM841.02 904.86l2.55 4.3h-5.1zM846.42 878.44l2.55 4.3h-5.1zM851.81 901.59l2.55 4.3h-5.1zM857.21 893.76l2.55 4.3h-5.1zM862.6 898.32l2.55 4.3h-5.1zM868 887.79l2.55 4.3h-5.1zM873.4 889.08l2.55 4.3h-5.1zM878.79 898.32l2.55 4.3h-5.1z" fill="#00ff00"/>
<polyline points="64,630.33 69.39,656.05 74.79,627 80.18,610.35 85.58,644.21 90.98,649.76 96.37,666.41 101.77,646.43 107.16,638.47 112.56,658.83 117.96,671.41 123.35,652.35 128.75,663.45 134.14,632 139.54,634.4 144.94,666.23 150.33,653.83 155.73,648.65 161.12,639.03 166.52,745.41 171.92,653.83 177.31,707.48 182.71,648.65 188.1,642.17 193.5,695.46 198.9,658.09 204.29,708.78 209.69,696.94 215.08,656.05 220.48,693.24 225.88,718.03 231.27,733.94 236.67,664.56 242.06,618.12 247.46,680.66 252.86,656.05 258.25,668.08 263.65,664.01 269.04,633.85 274.44,714.88 279.84,684.73 285.23,718.03 290.63,647.35 296.02,654.38 301.42,765.76 306.82,729.13 312.21,638.47 317.61,669.19 323,639.03 328.4,741.71 333.8,752.26 339.19,712.48 344.59,725.62 349.98,680.29 355.38,716.18 360.78,708.96 366.17,661.6 371.57,668.08 376.96,701.38 382.36,658.83 387.76,637.55 393.15,722.28 398.55,740.42 403.94,648.83 409.34,671.96 414.74,678.44 420.13,690.83 425.53,729.69 430.92,706.93 436.32,699.71 441.72,681.95 447.11,656.23 452.51,669.93 457.9,683.06 463.3,705.26 468.7,701.93 474.09,754.29 479.49,668.26 484.88,742.27 490.28,715.25 495.68,708.41 501.07,696.38 506.47,675.11 511.86,711.55 517.26,690.83 522.66,661.6 528.05,632.55 533.45,691.76 538.84,636.25 544.24,717.66 549.64,691.39 555.03,648.28 560.43,642.36 565.82,644.95 571.22,652.9 576.62,640.88 582.01,691.39 587.41,631.07 592.8,639.95 598.2,667.71 603.6,677.33 608.99,664.38 614.39,686.21 619.78,667.71 625.18,646.43 630.58,675.48 635.97,659.38 641.37,649.2 646.76,656.05 652.16,662.71 657.56,641.8 662.95,626.45 668.35,637.73 673.74,646.43 679.14,645.5 684.54,643.1 689.93,659.94 695.33,669.56 700.72,630.33 706.12,676.4 711.52,652.9 716.91,641.8 722.31,635.33 727.7,639.95 733.1,645.5 738.5,685.28 743.89,683.43 749.29,633.85 754.68,643.28 760.08,644.21 765.48,649.2 770.87,653.83 776.27,669.56 781.66,660.31 787.06,632.18 792.46,644.58 797.85,632.92 803.25,680.1 808.64,660.31 814.04,654.75 819.44,638.66 824.83,621.08 830.23,644.21 835.62,668.63 841.02,639.58 846.42,717.1 851.81,637.18 857.21,659.38 862.6,641.8 868,633.11 873.4,653.83 878.79,643.1" stroke="#ff5a5a" stroke-width="1.0" fill="none" stroke-linejoin="round"/>
<path d="M61.7 628.03h4.6v4.6h-4.6zM67.09 653.75h4.6v4.6h-4.6zM72.49 624.7h4.6v4.6h-4.6zM77.88 608.05h4.6v4.6h-4.6zM83.28 641.91h4.6v4.6h-4.6zM88.68 647.46h4.6v4.6h-4.6zM94.07 664.11h4.6v4.6h-4.6zM99.47 644.13h4.6v4.6h-4.6zM104.86 636.17h4.6v4.6h-4.6zM110.26 656.53h4.6v4.6h-4.6zM115.66 669.11h4.6v4.6h-4.6zM121.05 650.05h4.6v4.6h-4.6zM126.45 661.15h4.6v4.6h-4.6zM131.84 629.7h4.6v4.6h-4.6zM137.24 632.1h4.6v4.6h-4.6zM142.64 663.93h4.6v4.6h-4.6zM148.03 651.53h4.6v4.6h-4.6zM153.43 646.35h4.6v4.6h-4.6zM158.82 636.73h4.6v4.6h-4.6zM164.22 743.11h4.6v4.6h-4.6zM169.62 651.53h4.6v4.6h-4.6zM175.01 705.18h4.6v4.6h-4.6zM180.41 646.35h4.6v4.6h-4.6zM185.8 639.87h4.6v4.6h-4.6zM191.2 693.16h4.6v4.6h-4.6zM196.6 655.79h4.6v4.6h-4.6zM201.99 706.48h4.6v4.6h-4.6zM207.39 694.64h4.6v4.6h-4.6zM212.78 653.75h4.6v4.6h-4.6zM218.18 690.94h4.6v4.6h-4.6zM223.58 715.73h4.6v4.6h-4.6zM228.97 731.64h4.6v4.6h-4.6zM234.37 662.26h4.6v4.6h-4.6zM239.76 615.82h4.6v4.6h-4.6zM245.16 678.36h4.6v4.6h-4.6zM250.56 653.75h4.6v4.6h-4.6zM255.95 665.78h4.6v4.6h-4.6zM261.35 661.71h4.6v4.6h-4.6zM266.74 631.55h4.6v4.6h-4.6zM272.14 712.58h4.6v4.6h-4.6zM277.54 682.43h4.6v4.6h-4.6zM282.93 715.73h4.6v4.6h-4.6zM288.33 645.05h4.6v4.6h-4.6zM293.72 652.08h4.6v4.6h-4.6zM299.12 763.46h4.6v4.6h-4.6zM304.52 726.83h4.6v4.6h-4.6zM309.91 636.17h4.6v4.6h-4.6zM315.31 666.89h4.6v4.6h-4.6zM320.7 636.73h4.6v4.6h-4.6zM326.1 739.41h4.6v4.6h-4.6zM331.5 749.96h4.6v4.6h-4.6zM336.89 710.18h4.6v4.6h-4.6zM342.29 723.32h4.6v4.6h-4.6zM347.68 677.99h4.6v4.6h-4.6zM353.08 713.88h4.6v4.6h-4.6zM358.48 706.66h4.6v4.6h-4.6zM363.87 659.3h4.6v4.6h-4.6zM369.27 665.78h4.6v4.6h-4.6zM374.66 699.08h4.6v4.6h-4.6zM380.06 656.53h4.6v4.6h-4.6zM385.46 635.25h4.6v4.6h-4.6zM390.85 719.98h4.6v4.6h-4.6zM396.25 738.12h4.6v4.6h-4.6zM401.64 646.53h4.6v4.6h-4.6zM407.04 669.66h4.6v4.6h-4.6zM412.44 676.14h4.6v4.6h-4.6zM417.83 688.53h4.6v4.6h-4.6zM423.23 727.39h4.6v4.6h-4.6zM428.62 704.63h4.6v4.6h-4.6zM434.02 697.41h4.6v4.6h-4.6zM439.42 679.65h4.6v4.6h-4.6zM444.81 653.93h4.6v4.6h-4.6zM450.21 667.63h4.6v4.6h-4.6zM455.6 680.76h4.6v4.6h-4.6zM461 702.96h4.6v4.6h-4.6zM466.4 699.63h4.6v4.6h-4.6zM471.79 751.99h4.6v4.6h-4.6zM477.19 665.96h4.6v4.6h-4.6zM482.58 739.97h4.6v4.6h-4.6zM487.98 712.95h4.6v4.6h-4.6zM493.38 706.11h4.6v4.6h-4.6zM498.77 694.08h4.6v4.6h-4.6zM504.17 672.81h4.6v4.6h-4.6zM509.56 709.25h4.6v4.6h-4.6zM514.96 688.53h4.6v4.6h-4.6zM520.36 659.3h4.6v4.6h-4.6zM525.75 630.25h4.6v4.6h-4.6zM531.15 689.46h4.6v4.6h-4.6zM536.54 633.95h4.6v4.6h-4.6zM541.94 715.36h4.6v4.6h-4.6zM547.34 689.09h4.6v4.6h-4.6zM552.73 645.98h4.6v4.6h-4.6zM558.13 640.06h4.6v4.6h-4.6zM563.52 642.65h4.6v4.6h-4.6zM568.92 650.6h4.6v4.6h-4.6zM574.32 638.58h4.6v4.6h-4.6zM579.71 689.09h4.6v4.6h-4.6zM585.11 628.77h4.6v4.6h-4.6zM590.5 637.65h4.6v4.6h-4.6zM595.9 665.41h4.6v4.6h-4.6zM601.3 675.03h4.6v4.6h-4.6zM606.69 662.08h4.6v4.6h-4.6zM612.09 683.91h4.6v4.6h-4.6zM617.48 665.41h4.6v4.6h-4.6zM622.88 644.13h4.6v4.6h-4.6zM628.28 673.18h4.6v4.6h-4.6zM633.67 657.08h4.6v4.6h-4.6zM639.07 646.9h4.6v4.6h-4.6zM644.46 653.75h4.6v4.6h-4.6zM649.86 660.41h4.6v4.6h-4.6zM655.26 639.5h4.6v4.6h-4.6zM660.65 624.15h4.6v4.6h-4.6zM666.05 635.43h4.6v4.6h-4.6zM671.44 644.13h4.6v4.6h-4.6zM676.84 643.2h4.6v4.6h-4.6zM682.24 640.8h4.6v4.6h-4.6zM687.63 657.64h4.6v4.6h-4.6zM693.03 667.26h4.6v4.6h-4.6zM698.42 628.03h4.6v4.6h-4.6zM703.82 674.1h4.6v4.6h-4.6zM709.22 650.6h4.6v4.6h-4.6zM714.61 639.5h4.6v4.6h-4.6zM720.01 633.03h4.6v4.6h-4.6zM725.4 637.65h4.6v4.6h-4.6zM730.8 643.2h4.6v4.6h-4.6zM736.2 682.98h4.6v4.6h-4.6zM741.59 681.13h4.6v4.6h-4.6zM746.99 631.55h4.6v4.6h-4.6zM752.38 640.98h4.6v4.6h-4.6zM757.78 641.91h4.6v4.6h-4.6zM763.18 646.9h4.6v4.6h-4.6zM768.57 651.53h4.6v4.6h-4.6zM773.97 667.26h4.6v4.6h-4.6zM779.36 658.01h4.6v4.6h-4.6zM784.76 629.88h4.6v4.6h-4.6zM790.16 642.28h4.6v4.6h-4.6zM795.55 630.62h4.6v4.6h-4.6zM800.95 677.8h4.6v4.6h-4.6zM806.34 658.01h4.6v4.6h-4.6zM811.74 652.45h4.6v4.6h-4.6zM817.14 636.36h4.6v4.6h-4.6zM822.53 618.78h4.6v4.6h-4.6zM827.93 641.91h4.6v4.6h-4.6zM833.32 666.33h4.6v4.6h-4.6zM838.72 637.28h4.6v4.6h-4.6zM844.12 714.8h4.6v4.6h-4.6zM849.51 634.88h4.6v4.6h-4.6zM854.91 657.08h4.6v4.6h-4.6zM860.3 639.5h4.6v4.6h-4.6zM865.7 630.81h4.6v4.6h-4.6zM871.1 651.53h4.6v4.6h-4.6zM876.49 640.8h4.6v4.6h-4.6z" fill="#ff0000"/>
<polyline points="64,624.6 69.39,633.11 74.79,634.4 80.18,618.31 85.58,641.8 90.98,692.68 96.37,651.61 101.77,648.28 107.16,651.61 112.56,661.6 117.96,683.99 123.35,648.83 128.75,713.59 134.14,599.62 139.54,667.15 144.94,659.94 150.33,650.5 155.73,626.63 161.12,623.3 166.52,697.68 171.92,671.78 177.31,701.93 182.71,639.58 188.1,644.95 193.5,669.93 198.9,681.95 204.29,712.66 209.69,660.86 215.08,675.11 220.48,649.76 225.88,732.83 231.27,707.48 236.67,695.09 242.06,634.4 247.46,664.56 252.86,671.04 258.25,725.06 263.65,703.23 269.04,685.84 274.44,642.73 279.84,680.29 285.23,670.48 290.63,644.58 296.02,634.96 301.42,676.96 306.82,681.95 312.21,643.65 317.61,722.28 323,648.83 328.4,681.58 333.8,745.41 339.19,766.69 344.59,665.86 349.98,685.28 355.38,665.49 360.78,744.49 366.17,665.3 371.57,724.51 376.96,656.6 382.36,647.91 387.76,631.07 393.15,691.39 398.55,668.63 403.94,655.68 409.34,665.86 414.74,684.73 420.13,719.51 425.53,731.54 430.92,652.53 436.32,644.95 441.72,653.83 447.11,653.27 452.51,671.41 457.9,674.74 463.3,680.66 468.7,755.96 474.09,715.44 479.49,671.41 484.88,729.13 490.28,635.33 495.68,694.16 501.07,665.3 506.47,668.63 511.86,692.13 517.26,702.49 522.66,656.05 528.05,594.63 533.45,663.45 538.84,637.73 544.24,694.16 549.64,728.39 555.03,651.05 560.43,621.45 565.82,632.55 571.22,642.36 576.62,650.5 582.01,716.18 587.41,640.51 592.8,644.21 598.2,621.82 603.6,662.71 608.99,665.86 614.39,687.69 619.78,643.65 625.18,650.68 630.58,632.55 635.97,638.66 641.37,629.41 646.76,652.53 652.16,703.23 657.56,651.61 662.95,648.83 668.35,654.2 673.74,643.28 679.14,659.01 684.54,637.73 689.93,653.27 695.33,697.31 700.72,667.34 706.12,686.21 711.52,638.66 716.91,605.36 722.31,652.35 727.7,627 733.1,713.59 738.5,686.58 743.89,684.91 749.29,640.32 754.68,617.75 760.08,628.48 765.48,632.55 770.87,646.8 776.27,674.18 781.66,656.23 787.06,623.3 792.46,629.22 797.85,636.25 803.25,709.89 808.64,633.11 814.04,645.5 819.44,632.55 824.83,615.9 830.23,628.3 835.62,609.43 841.02,612.2 846.42,694.16 851.81,619.05 857.21,683.43 862.6,619.05 868,612.76 873.4,643.28 878.79,609.43" stroke="#5a5aff" stroke-width="1.0" fill="none" stroke-linejoin="round"/>
<path d="M61.7 622.3h4.6v4.6h-4.6zM67.09 630.81h4.6v4.6h-4.6zM72.49 632.1h4.6v4.6h-4.6zM77.88 616.01h4.6v4.6h-4.6zM83.28 639.5h4.6v4.6h-4.6zM88.68 690.38h4.6v4.6h-4.6zM94.07 649.31h4.6v4.6h-4.6zM99.47 645.98h4.6v4.6h-4.6zM104.86 649.31h4.6v4.6h-4.6zM110.26 659.3h4.6v4.6h-4.6zM115.66 681.69h4.6v4.6h-4.6zM121.05 646.53h4.6v4.6h-4.6zM126.45 711.29h4.6v4.6h-4.6zM131.84 597.32h4.6v4.6h-4.6zM137.24 664.85h4.6v4.6h-4.6zM142.64 657.64h4.6v4.6h-4.6zM148.03 648.2h4.6v4.6h-4.6zM153.43 624.33h4.6v4.6h-4.6zM158.82 621h4.6v4.6h-4.6zM164.22 695.38h4.6v4.6h-4.6zM169.62 669.48h4.6v4.6h-4.6zM175.01 699.63h4.6v4.6h-4.6zM180.41 637.28h4.6v4.6h-4.6zM185.8 642.65h4.6v4.6h-4.6zM191.2 667.63h4.6v4.6h-4.6zM196.6 679.65h4.6v4.6h-4.6zM201.99 710.36h4.6v4.6h-4.6zM207.39 658.56h4.6v4.6h-4.6zM212.78 672.81h4.6v4.6h-4.6zM218.18 647.46h4.6v4.6h-4.6zM223.58 730.53h4.6v4.6h-4.6zM228.97 705.18h4.6v4.6h-4.6zM234.37 692.79h4.6v4.6h-4.6zM239.76 632.1h4.6v4.6h-4.6zM245.16 662.26h4.6v4.6h-4.6zM250.56 668.74h4.6v4.6h-4.6zM255.95 722.76h4.6v4.6h-4.6zM261.35 700.93h4.6v4.6h-4.6zM266.74 683.54h4.6v4.6h-4.6zM272.14 640.43h4.6v4.6h-4.6zM277.54 677.99h4.6v4.6h-4.6zM282.93 668.18h4.6v4.6h-4.6zM288.33 642.28h4.6v4.6h-4.6zM293.72 632.66h4.6v4.6h-4.6zM299.12 674.66h4.6v4.6h-4.6zM304.52 679.65h4.6v4.6h-4.6zM309.91 641.35h4.6v4.6h-4.6zM315.31 719.98h4.6v4.6h-4.6zM320.7 646.53h4.6v4.6h-4.6zM326.1 679.28h4.6v4.6h-4.6zM331.5 743.11h4.6v4.6h-4.6zM336.89 764.39h4.6v4.6h-4.6zM342.29 663.56h4.6v4.6h-4.6zM347.68 682.98h4.6v4.6h-4.6zM353.08 663.19h4.6v4.6h-4.6zM358.48 742.19h4.6v4.6h-4.6zM363.87 663h4.6v4.6h-4.6zM369.27 722.21h4.6v4.6h-4.6zM374.66 654.3h4.6v4.6h-4.6zM380.06 645.61h4.6v4.6h-4.6zM385.46 628.77h4.6v4.6h-4.6zM390.85 689.09h4.6v4.6h-4.6zM396.25 666.33h4.6v4.6h-4.6zM401.64 653.38h4.6v4.6h-4.6zM407.04 663.56h4.6v4.6h-4.6zM412.44 682.43h4.6v4.6h-4.6zM417.83 717.21h4.6v4.6h-4.6zM423.23 729.24h4.6v4.6h-4.6zM428.62 650.23h4.6v4.6h-4.6zM434.02 642.65h4.6v4.6h-4.6zM439.42 651.53h4.6v4.6h-4.6zM444.81 650.97h4.6v4.6h-4.6zM450.21 669.11h4.6v4.6h-4.6zM455.6 672.44h4.6v4.6h-4.6zM461 678.36h4.6v4.6h-4.6zM466.4 753.66h4.6v4.6h-4.6zM471.79 713.14h4.6v4.6h-4.6zM477.19 669.11h4.6v4.6h-4.6zM482.58 726.83h4.6v4.6h-4.6zM487.98 633.03h4.6v4.6h-4.6zM493.38 691.86h4.6v4.6h-4.6zM498.77 663h4.6v4.6h-4.6zM504.17 666.33h4.6v4.6h-4.6zM509.56 689.83h4.6v4.6h-4.6zM514.96 700.19h4.6v4.6h-4.6zM520.36 653.75h4.6v4.6h-4.6zM525.75 592.33h4.6v4.6h-4.6zM531.15 661.15h4.6v4.6h-4.6zM536.54 635.43h4.6v4.6h-4.6zM541.94 691.86h4.6v4.6h-4.6zM547.34 726.09h4.6v4.6h-4.6zM552.73 648.75h4.6v4.6h-4.6zM558.13 619.15h4.6v4.6h-4.6zM563.52 630.25h4.6v4.6h-4.6zM568.92 640.06h4.6v4.6h-4.6zM574.32 648.2h4.6v4.6h-4.6zM579.71 713.88h4.6v4.6h-4.6zM585.11 638.21h4.6v4.6h-4.6zM590.5 641.91h4.6v4.6h-4.6zM595.9 619.52h4.6v4.6h-4.6zM601.3 660.41h4.6v4.6h-4.6zM606.69 663.56h4.6v4.6h-4.6zM612.09 685.39h4.6v4.6h-4.6zM617.48 641.35h4.6v4.6h-4.6zM622.88 648.38h4.6v4.6h-4.6zM628.28 630.25h4.6v4.6h-4.6zM633.67 636.36h4.6v4.6h-4.6zM639.07 627.11h4.6v4.6h-4.6zM644.46 650.23h4.6v4.6h-4.6zM649.86 700.93h4.6v4.6h-4.6zM655.26 649.31h4.6v4.6h-4.6zM660.65 646.53h4.6v4.6h-4.6zM666.05 651.9h4.6v4.6h-4.6zM671.44 640.98h4.6v4.6h-4.6zM676.84 656.71h4.6v4.6h-4.6zM682.24 635.43h4.6v4.6h-4.6zM687.63 650.97h4.6v4.6h-4.6zM693.03 695.01h4.6v4.6h-4.6zM698.42 665.04h4.6v4.6h-4.6zM703.82 683.91h4.6v4.6h-4.6zM709.22 636.36h4.6v4.6h-4.6zM714.61 603.06h4.6v4.6h-4.6zM720.01 650.05h4.6v4.6h-4.6zM725.4 624.7h4.6v4.6h-4.6zM730.8 711.29h4.6v4.6h-4.6zM736.2 684.28h4.6v4.6h-4.6zM741.59 682.61h4.6v4.6h-4.6zM746.99 638.02h4.6v4.6h-4.6zM752.38 615.45h4.6v4.6h-4.6zM757.78 626.18h4.6v4.6h-4.6zM763.18 630.25h4.6v4.6h-4.6zM768.57 644.5h4.6v4.6h-4.6zM773.97 671.88h4.6v4.6h-4.6zM779.36 653.93h4.6v4.6h-4.6zM784.76 621h4.6v4.6h-4.6zM790.16 626.92h4.6v4.6h-4.6zM795.55 633.95h4.6v4.6h-4.6zM800.95 707.59h4.6v4.6h-4.6zM806.34 630.81h4.6v4.6h-4.6zM811.74 643.2h4.6v4.6h-4.6zM817.14 630.25h4.6v4.6h-4.6zM822.53 613.6h4.6v4.6h-4.6zM827.93 626h4.6v4.6h-4.6zM833.32 607.13h4.6v4.6h-4.6zM838.72 609.9h4.6v4.6h-4.6zM844.12 691.86h4.6v4.6h-4.6zM849.51 616.75h4.6v4.6h-4.6zM854.91 681.13h4.6v4.6h-4.6zM860.3 616.75h4.6v4.6h-4.6zM865.7 610.46h4.6v4.6h-4.6zM871.1 640.98h4.6v4.6h-4.6zM876.49 607.13h4.6v4.6h-4.6z" fill="#0000ff"/>
<g font-family='"Liberation Sans", sans-serif' font-size="21.5" fill="#000"><text x="37.9" y="512.76" text-anchor="middle">12</text><text x="37.9" y="546.88" text-anchor="middle">9</text><text x="37.9" y="581" text-anchor="middle">6</text><text x="37.9" y="615.12" text-anchor="middle">3</text><text x="37.9" y="649.24" text-anchor="middle">0</text><text x="40.0" y="683.36" text-anchor="middle">-3</text><text x="40.0" y="717.48" text-anchor="middle">-6</text><text x="40.0" y="751.6" text-anchor="middle">-9</text><text x="40.0" y="785.72" text-anchor="middle">-12</text><text x="40.0" y="819.84" text-anchor="middle">-15</text><text x="40.0" y="853.96" text-anchor="middle">-18</text><text x="40.0" y="888.08" text-anchor="middle">-21</text><text x="40.0" y="922.2" text-anchor="middle">-24</text><text x="923.8" y="512.76">36</text><text x="923.8" y="546.88">33</text><text x="923.8" y="581">30</text><text x="923.8" y="615.12">27</text><text x="923.8" y="649.24">24</text><text x="923.8" y="683.36">21</text><text x="923.8" y="717.48">18</text><text x="923.8" y="751.6">15</text><text x="923.8" y="785.72">12</text><text x="923.8" y="819.84">9</text><text x="923.8" y="853.96">6</text><text x="923.8" y="888.08">3</text><text x="923.8" y="922.2">0</text><text x="52.3" y="936.1" text-anchor="middle">0</text><text x="163.1" y="936.1" text-anchor="middle">20</text><text x="271.6" y="936.1" text-anchor="middle">40</text><text x="378.7" y="936.1" text-anchor="middle">60</text><text x="487.2" y="936.1" text-anchor="middle">80</text><text x="598.7" y="936.1" text-anchor="middle">100</text><text x="706.6" y="936.1" text-anchor="middle">120</text><text x="814.4" y="936.1" text-anchor="middle">140</text><text x="922.4" y="936.1" text-anchor="middle">160</text></g>
<text transform="translate(489.3 962) scale(0.97 1)" text-anchor="middle" font-family='"Liberation Sans", sans-serif' font-size="27.3">Point ID</text>
<text transform="translate(16.2 708.8) rotate(-90)" text-anchor="middle" font-family='"Liberation Sans", sans-serif' font-size="22">Deformation rate (mm/y)</text>
<text transform="translate(969.6 708.5) rotate(-90)" text-anchor="middle" font-family='"Liberation Sans", sans-serif' font-size="22">Standard deviation (mm/y)</text>
<rect x="801.5" y="510.9" width="117" height="81" fill="#fff" stroke="#4a4a4a" stroke-width="1.2"/>
<path d="M806.5 524.8H834" stroke="#ff5a5a" stroke-width="1.2"/>
<rect x="818.0" y="522.5" width="4.6" height="4.6" fill="#ff0000"/>
<text x="836.5" y="532.8" font-family='"Liberation Sans", sans-serif' font-size="21">InSAR</text>
<path d="M806.5 551H834" stroke="#5a5aff" stroke-width="1.2"/>
<rect x="818.0" y="548.7" width="4.6" height="4.6" fill="#0000ff"/>
<text x="836.5" y="559" font-family='"Liberation Sans", sans-serif' font-size="21">Leveling</text>
<path d="M806.5 577.2H834" stroke="#40ff40" stroke-width="1.2"/>
<path d="M820.3 574.2l2.85 4.8h-5.7z" fill="#00ff00"/>
<text x="836.5" y="585.2" font-family='"Liberation Sans", sans-serif' font-size="21">SD</text>
<text x="491" y="496.5" text-anchor="middle" font-family='"Liberation Serif", serif' font-size="26">(a)</text>
<text x="492.2" y="994" text-anchor="middle" font-family='"Liberation Serif", serif' font-size="26">(b)</text>
</g>
</svg>
</body></html>
